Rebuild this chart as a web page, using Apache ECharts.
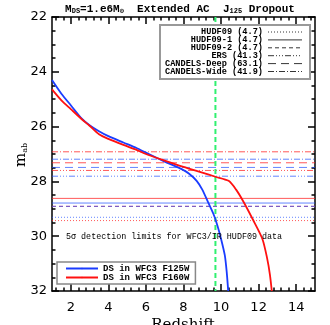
<!DOCTYPE html>
<html><head><meta charset="utf-8">
<script src="https://cdn.jsdelivr.net/npm/echarts@6/dist/echarts.min.js"></script>
<style>html,body{margin:0;padding:0;background:#fff}#c{width:330px;height:325px}</style>
</head><body><div id="c"></div>
<script>
// ---- data ----
const zF125 = [1.0, 1.5, 2.0, 2.6, 3.0, 3.5, 4.0, 4.8, 5.5, 6.0, 7.0, 7.9, 8.3, 8.7, 9.0, 9.3, 9.6, 9.8, 10.0, 10.2, 10.3, 10.38];
const mF125 = [24.30, 24.80, 25.22, 25.72, 25.95, 26.17, 26.35, 26.58, 26.78, 26.95, 27.28, 27.55, 27.72, 27.98, 28.30, 28.75, 29.20, 29.60, 30.10, 30.70, 31.30, 32.0];
const zF160 = [1.0, 1.5, 2.0, 2.6, 3.0, 3.5, 4.0, 4.8, 5.5, 6.0, 7.0, 8.0, 9.0, 9.7, 10.4, 10.8, 11.2, 11.7, 12.2, 12.45, 12.6, 12.7];
const mF160 = [24.64, 25.04, 25.36, 25.74, 25.97, 26.28, 26.45, 26.67, 26.85, 27.00, 27.24, 27.47, 27.68, 27.83, 27.98, 28.30, 28.75, 29.40, 30.10, 30.80, 31.40, 32.0];
const surveys = ['HUDF09', 'HUDF09-1', 'HUDF09-2', 'ERS', 'CANDELS-Deep', 'CANDELS-Wide'];
const areas = ['4.7', '4.7', '4.7', '41.3', '63.1', '41.9'];
const limF125 = [29.31, 28.79, 28.91, 27.81, 27.49, 27.19];
const limF160 = [29.43, 28.62, 28.91, 27.60, 27.32, 26.92];
const zDropout = 9.7;
const xTickLabels = [2, 4, 6, 8, 10, 12, 14];
const xRange = [1, 15];
const yRange = [22, 32];
const curveNames = ['DS in WFC3 F125W', 'DS in WFC3 F160W'];

// ---- styles ----
const dashes = [[1, 2], 'solid', [4, 3], [6, 2, 1, 2, 1, 2, 1, 2], [8, 5], [6, 2, 1, 2]];
const MONO = '"Liberation Mono", "DejaVu Sans Mono", monospace';
const AX = { color: '#000', width: 1.5 };
const xMinor = [];
for (let k = 3; k < 38; k++) { if (k % 5 !== 0) xMinor.push(Math.round(k * 4) / 10); }

const series = [];
surveys.forEach((s, i) => {
  series.push({ type: 'line', symbol: 'none', silent: true,
    data: [[xRange[0], limF160[i]], [xRange[1], limF160[i]]],
    lineStyle: { color: '#ff2020', width: 1, type: dashes[i], opacity: 0.75 } });
  series.push({ type: 'line', symbol: 'none', silent: true,
    data: [[xRange[0], limF125[i]], [xRange[1], limF125[i]]],
    lineStyle: { color: '#2050ff', width: 1, type: dashes[i], opacity: 0.7 } });
});
series.push({ type: 'line', symbol: 'none', silent: true,
  data: [[zDropout, yRange[0]], [zDropout, yRange[1]]],
  lineStyle: { color: '#30f070', width: 2, type: [5, 3] } });
series.push({ name: curveNames[0], type: 'line', symbol: 'none', smooth: 0.25,
  data: zF125.map((z, i) => [z, mF125[i]]), itemStyle: { color: '#1a3cff' },
  lineStyle: { color: '#1a3cff', width: 1.8 } });
series.push({ name: curveNames[1], type: 'line', symbol: 'none', smooth: 0.25,
  data: zF160.map((z, i) => [z, mF160[i]]), itemStyle: { color: '#ff1010' },
  lineStyle: { color: '#ff1010', width: 1.8 } });

function xAx(pos, labels) {
  return [
    { type: 'value', min: xRange[0], max: xRange[1], position: pos,
      axisLine: { show: true, onZero: false, lineStyle: AX },
      axisTick: { show: true, inside: true, length: 7, customValues: xTickLabels, lineStyle: AX },
      axisLabel: { show: labels, customValues: xTickLabels, margin: 10, color: '#000', fontSize: 13, fontFamily: '"DejaVu Sans"' },
      splitLine: { show: false } },
    { type: 'value', min: xRange[0], max: xRange[1], position: pos,
      axisLine: { show: false },
      axisTick: { show: true, inside: true, length: 3.5, customValues: xMinor, lineStyle: AX },
      axisLabel: { show: false }, splitLine: { show: false } }
  ];
}
function yAx(pos, labels) {
  return { type: 'value', inverse: true, min: yRange[0], max: yRange[1], interval: 2, position: pos,
    axisLine: { show: true, onZero: false, lineStyle: AX },
    axisTick: { show: true, inside: true, length: 7, lineStyle: AX },
    minorTick: { show: true, splitNumber: 4, length: 3.5, lineStyle: AX },
    axisLabel: { show: labels, margin: 5, color: '#000', fontSize: 13, fontFamily: '"DejaVu Sans"' },
    splitLine: { show: false } };
}

// legend graphic (top right)
const legendEls = [{ type: 'rect', shape: { x: 160, y: 25, width: 150, height: 54 },
  style: { fill: '#fff', stroke: '#999', lineWidth: 2 }, z: 100 }];
surveys.forEach((s, i) => {
  const y = 32 + i * 7.9;
  legendEls.push({ type: 'text', x: 263, y: y, z: 101,
    style: { text: s + ' (' + areas[i] + ')', align: 'right', verticalAlign: 'middle',
      font: 'bold 8.6px ' + MONO, fill: '#000' } });
  legendEls.push({ type: 'line', z: 101, shape: { x1: 268, y1: y, x2: 302, y2: y },
    style: { stroke: '#000', lineWidth: 0.8, lineDash: dashes[i] === 'solid' ? null : dashes[i] } });
});

const chart = echarts.init(document.getElementById('c'), null, { renderer: 'canvas' });
chart.setOption({
  animation: false,
  backgroundColor: '#fff',
  grid: { left: 52, right: 15, top: 17, bottom: 34, containLabel: false },
  xAxis: [...xAx('bottom', true), ...xAx('top', false)],
  yAxis: [yAx('left', true), yAx('right', false)],
  legend: { data: curveNames, orient: 'vertical', left: 57, top: 262, itemWidth: 32, itemHeight: 2,
    itemGap: 0, padding: [2, 6, 2, 8], borderColor: '#888', borderWidth: 1.5, backgroundColor: '#fff',
    textStyle: { fontFamily: MONO, fontWeight: 'bold', fontSize: 9, color: '#000', padding: [0, 0, 0, 0] },
    selectedMode: false },
  graphic: [
    { type: 'text', x: 180, y: 8, style: { text: '{a|M}{b|DS}{a|=1.e6M}{b|⊙}{a|  Extended AC  J}{b|125}{a| Dropout}',
      align: 'center', verticalAlign: 'middle',
      rich: { a: { fontFamily: MONO, fontWeight: 'bold', fontSize: 11, lineHeight: 14, fill: '#000', verticalAlign: 'bottom' },
              b: { fontFamily: MONO, fontWeight: 'bold', fontSize: 7, lineHeight: 14, fill: '#000', verticalAlign: 'bottom' } } } },
    { type: 'text', x: 20, y: 155, rotation: Math.PI / 2,
      style: { text: '{a|m}{b|ab}', align: 'center', verticalAlign: 'middle',
        rich: { a: { fontFamily: '"DejaVu Serif"', fontSize: 15, lineHeight: 18, fill: '#000', verticalAlign: 'bottom' },
                b: { fontFamily: '"DejaVu Serif"', fontSize: 8, lineHeight: 18, fill: '#000', verticalAlign: 'bottom' } } } },
    { type: 'text', x: 183, y: 325, style: { text: 'Redshift', align: 'center', verticalAlign: 'middle',
      font: '15px "DejaVu Serif"', fill: '#000' } },
    { type: 'text', x: 66, y: 237, z: 50, style: { text: '5σ detection limits for WFC3/IR HUDF09 data',
      align: 'left', verticalAlign: 'middle', font: '8.4px ' + MONO, fill: '#000' } },
    ...legendEls
  ],
  series: series
});
</script></body></html>
